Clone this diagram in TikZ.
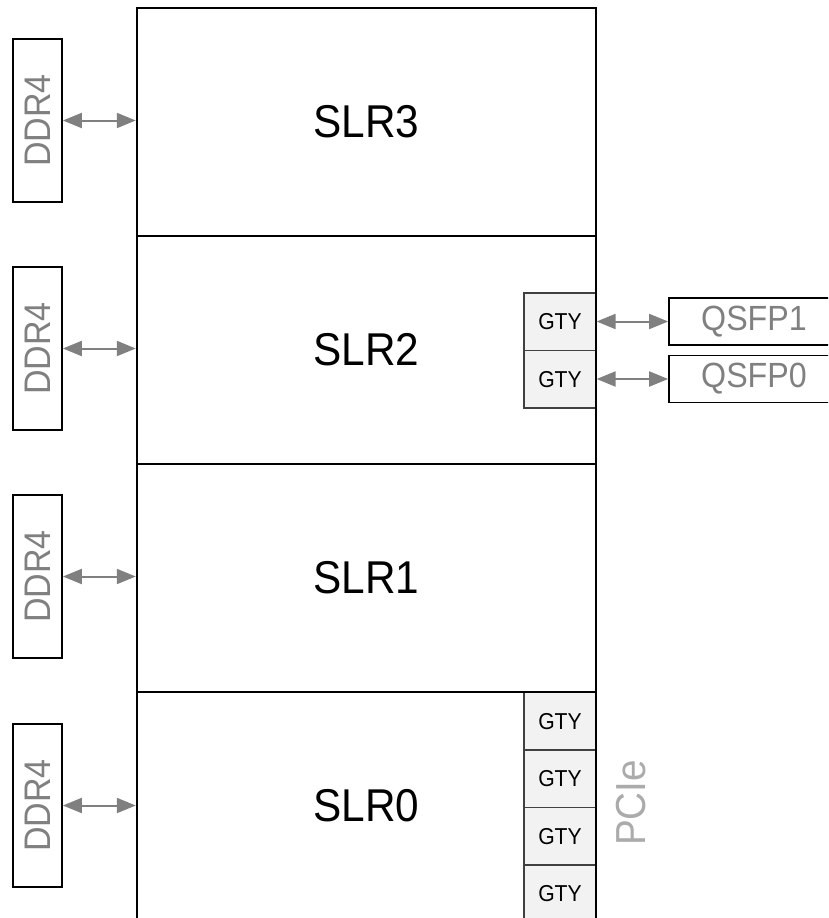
\documentclass[tikz,border=0pt]{standalone}
\usepackage{fontspec}
\setmainfont[FakeStretch=0.92]{Liberation Sans}
\usetikzlibrary{arrows.meta}
\definecolor{arrgray}{HTML}{808080}
\definecolor{txtgray}{HTML}{808080}
\definecolor{pciegray}{HTML}{ABABAB}
\definecolor{gtyfill}{HTML}{F2F2F2}
\definecolor{gtyline}{HTML}{404040}
\begin{document}
\begin{tikzpicture}[x=1pt,y=-1pt,
  slr/.style={draw=black,line width=2.4pt,minimum width=459pt,minimum height=228pt,inner sep=0pt,font=\fontsize{46}{50}\selectfont},
  ddr/.style={draw=black,line width=1.7pt,rotate=90,minimum width=163pt,minimum height=49pt,inner sep=0pt,text=txtgray,font=\fontsize{37}{40}\selectfont},
  gty/.style={draw=gtyline,fill=gtyfill,line width=1.2pt,minimum width=72pt,minimum height=57.5pt,inner sep=0pt,font=\fontsize{23}{25}\selectfont},
  qsfp/.style={draw=black,line width=1.7pt,minimum width=170pt,minimum height=47pt,inner sep=0pt,text=txtgray,font=\fontsize{35}{38}\selectfont},
  biarrow/.style={draw=arrgray,line width=2pt,{Triangle[length=19pt,width=15pt]}-{Triangle[length=19pt,width=15pt]}}]
\useasboundingbox (0,0) rectangle (828,918);
\clip (0,0) rectangle (828,918);
% GTY blocks (drawn first so SLR borders lie on top)
\node[gty] (g21) at (560,321.75) {GTY};
\node[gty] (g20) at (560,379.25) {GTY};
\node[gty] (g03) at (560,721.25) {GTY};
\node[gty] (g02) at (560,778.75) {GTY};
\node[gty] (g01) at (560,836.25) {GTY};
\node[gty] (g00) at (560,893.75) {GTY};
% SLRs
\node[slr] (s3) at (366.5,122) {SLR3};
\node[slr] (s2) at (366.5,350) {SLR2};
\node[slr] (s1) at (366.5,578) {SLR1};
\node[slr] (s0) at (366.5,806) {SLR0};
% DDR4
\node[ddr] (d3) at (37.5,120.5) {DDR4};
\node[ddr] (d2) at (37.5,348.5) {DDR4};
\node[ddr] (d1) at (37.5,576.5) {DDR4};
\node[ddr] (d0) at (37.5,805.5) {DDR4};
\draw[biarrow] (d3.south) -- (d3.south -| s3.west);
\draw[biarrow] (d2.south) -- (d2.south -| s2.west);
\draw[biarrow] (d1.south) -- (d1.south -| s1.west);
\draw[biarrow] (d0.south) -- (d0.south -| s0.west);
% QSFP
\node[qsfp] (q1) at (754,321.5) {QSFP1};
\node[qsfp] (q0) at (754,379) {QSFP0};
\draw[biarrow] (q1.west -| g21.east) -- (q1.west);
\draw[biarrow] (q0.west -| g20.east) -- (q0.west);
% PCIe
\node[rotate=90,text=pciegray,font=\fontsize{42}{45}\selectfont,inner sep=0pt] (pcie) at (631,803) {PCIe};
\end{tikzpicture}
\end{document}
